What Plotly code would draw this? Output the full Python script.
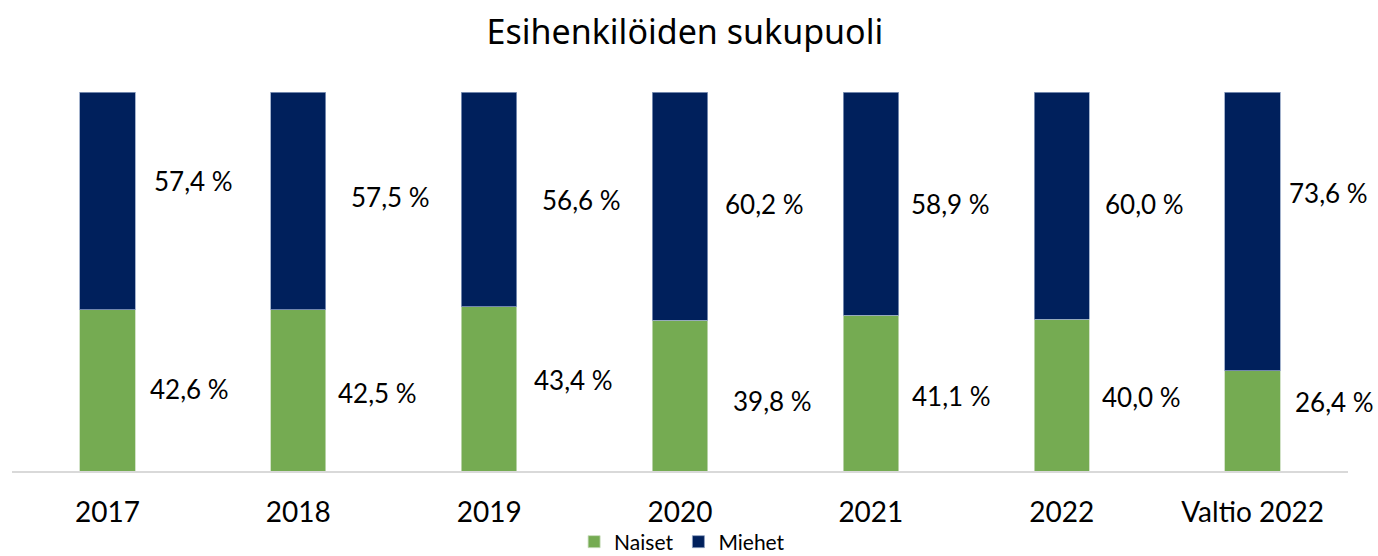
import plotly.graph_objects as go

categories = ["2017", "2018", "2019", "2020", "2021", "2022", "Valtio 2022"]
naiset = [42.6, 42.5, 43.4, 39.8, 41.1, 40.0, 26.4]
miehet = [57.4, 57.5, 56.6, 60.2, 58.9, 60.0, 73.6]

# label nudges (pixels) mimicking manually placed data labels
naiset_dx = [82, 79, 84, 92, 81, 80, 82]
naiset_dy = [1, -3, 9, -5, -3, -2, 19]
miehet_dx = [86, 92, 92, 84, 80, 83, 76]
miehet_dy = [20, 4, -1, 2, 0, 2, 38]

GREEN = "#75AB52"
NAVY = "#00205C"
LABEL_FONT = dict(family="Lato, 'Open Sans', sans-serif", size=26, color="#000000")

fig = go.Figure()
fig.add_trace(go.Bar(x=categories, y=naiset, name="Naiset", width=0.29,
                     marker=dict(color=GREEN, line=dict(color="#c8dcbb", width=0.8)),
                     hoverinfo="skip"))
fig.add_trace(go.Bar(x=categories, y=miehet, name="Miehet", width=0.29,
                     marker=dict(color=NAVY, line=dict(color="#8da0c0", width=0.8)),
                     hoverinfo="skip"))

def fmt(v):
    return f"{v:.1f}".replace(".", ",") + " %"

for i, c in enumerate(categories):
    fig.add_annotation(x=i, y=naiset[i] / 2, text=fmt(naiset[i]), showarrow=False,
                       xshift=naiset_dx[i], yshift=naiset_dy[i], font=LABEL_FONT)
    fig.add_annotation(x=i, y=naiset[i] + miehet[i] / 2, text=fmt(miehet[i]), showarrow=False,
                       xshift=miehet_dx[i], yshift=miehet_dy[i], font=LABEL_FONT)

fig.update_layout(
    width=1378, height=556, autosize=False,
    margin=dict(l=12, r=30, t=92, b=85, autoexpand=False),
    paper_bgcolor="white", plot_bgcolor="white",
    barmode="stack",
    title=dict(text="Esihenkilöiden sukupuoli", xref="container", x=0.497, xanchor="center",
               yref="container", y=1 - 32 / 556, yanchor="middle",
               font=dict(family="'Noto Sans', 'Open Sans', sans-serif", size=34, color="#000000")),
    legend=dict(orientation="h", xref="container", x=0.495, xanchor="center",
                yref="container", y=1 - 542 / 556, yanchor="middle",
                font=dict(family="Lato, 'Open Sans', sans-serif", size=21, color="#000000"),
                traceorder="normal", itemwidth=30, tracegroupgap=0),
    showlegend=True,
)
fig.update_xaxes(type="category", range=[-0.5, len(categories) - 0.5],
                 showline=True, linecolor="#d9d9d9", linewidth=2, showgrid=False,
                 ticks="", ticklabelstandoff=15,
                 tickfont=dict(family="Lato, 'Open Sans', sans-serif", size=28, color="#000000"),
                 fixedrange=True)
fig.update_yaxes(range=[0, 100], visible=False, showgrid=False, fixedrange=True)

fig.write_html("out.html", config={"displayModeBar": False},
               post_script="document.body.style.margin='0';document.body.style.overflow='hidden';")
